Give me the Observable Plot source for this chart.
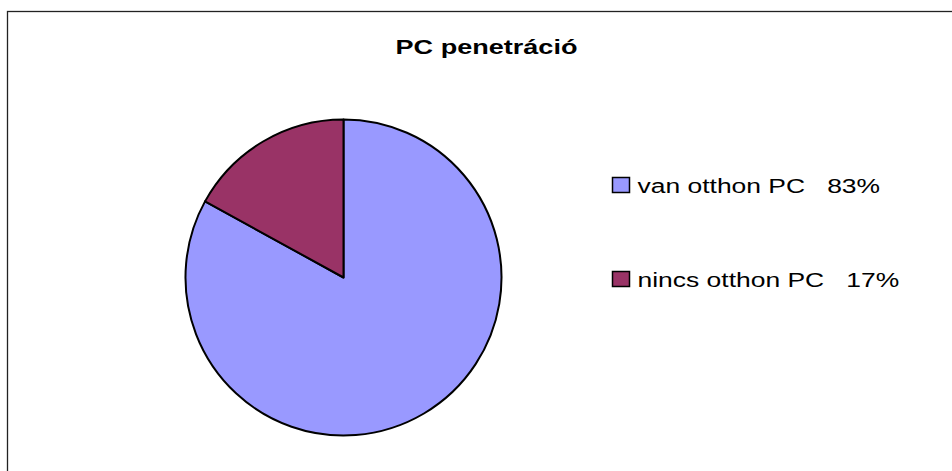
<!DOCTYPE html>
<html>
<head>
<meta charset="utf-8">
<script src="https://cdn.jsdelivr.net/npm/d3@7"></script>
<script src="https://cdn.jsdelivr.net/npm/@observablehq/plot@0.6"></script>
<style>
  html, body { margin: 0; padding: 0; background: #fff; }
  svg text { white-space: pre; }
</style>
</head>
<body>
<div id="chart"></div>
<script>
const title = "PC penetráció";
const categories = ["van otthon PC", "nincs otthon PC"];
const values = [83, 17];
const valueLabels = ["83%", "17%"];
const colors = ["#9999FF", "#993366"];

const W = 952, H = 471;
const data = categories.map((c, i) => ({category: c, value: values[i], label: `${c}   ${valueLabels[i]}`}));

// layout (positions in pixels)
const pieCenter = {x: 343.5, y: 277.5};
const pieRadius = 158;
const legendX = 612.5, legendBoxW = 17, legendBoxH = 15, legendTextX = 637;
const legendRowY = [185, 279];

const pie = d3.pie().sort(null).value(d => d.value)(data);

function pieMark(index, scales) {
  const g = d3.create("svg:g");
  const cx = scales.x(pieCenter.x), cy = scales.y(pieCenter.y);
  const r = Math.abs(scales.x(pieRadius) - scales.x(0));
  const arc = d3.arc().innerRadius(0).outerRadius(r);
  g.selectAll("path").data(pie).join("path")
    .attr("transform", `translate(${cx},${cy})`)
    .attr("d", arc)
    .attr("fill", d => scales.color(d.data.category))
    .attr("stroke", "#000")
    .attr("stroke-width", 2)
    .attr("stroke-linejoin", "round");
  return g.node();
}

const chart = Plot.plot({
  width: W,
  height: H,
  margin: 0,
  x: {domain: [0, W], range: [0, W], axis: null},
  y: {domain: [0, H], range: [0, H], axis: null},
  color: {domain: categories, range: colors},
  style: {fontFamily: "'Liberation Sans', Arial, sans-serif", background: "#fff"},
  marks: [
    Plot.rect([0], {x1: 7.5, x2: W + 20, y1: 11.5, y2: H + 20, fill: "none", stroke: "#222", strokeWidth: 1.3}),
    Plot.text([title], {x: 486, y: 47.4, text: d => d, fontSize: 20.5, fontWeight: "bold", fill: "#000"}),
    pieMark,
    Plot.rect(data, {
      x1: legendX, x2: legendX + legendBoxW,
      y1: (d, i) => legendRowY[i] - legendBoxH / 2,
      y2: (d, i) => legendRowY[i] + legendBoxH / 2,
      fill: "category", stroke: "#000", strokeWidth: 1.5
    }),
    Plot.text(data, {
      x: legendTextX,
      y: (d, i) => legendRowY[i] + 0.8,
      text: "label", textAnchor: "start", fontSize: 21, fill: "#000"
    })
  ]
});

// horizontally stretched lettering, as in the reference
const legendLabels = new Set(data.map(d => d.label));
chart.querySelectorAll("text").forEach(t => {
  const s = t.textContent === title ? 1.32 : legendLabels.has(t.textContent) ? 1.26 : null;
  if (!s) return;
  let tr = t.getAttribute("transform");
  if (!tr) {
    const x = +t.getAttribute("x") || 0, y = +t.getAttribute("y") || 0;
    t.removeAttribute("x"); t.removeAttribute("y");
    tr = `translate(${x},${y})`;
  }
  t.setAttribute("transform", `${tr} scale(${s},1)`);
});

document.getElementById("chart").appendChild(chart);
</script>
</body>
</html>
